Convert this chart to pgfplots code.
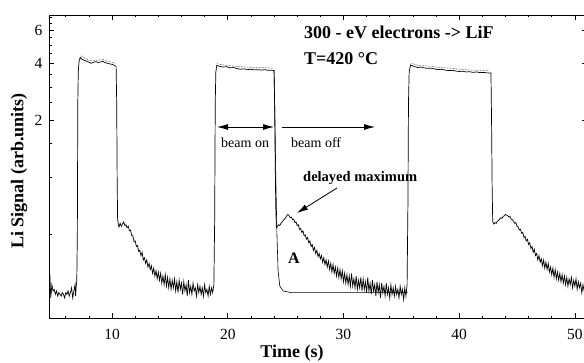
\documentclass[border=0pt]{standalone}
\usepackage{pgfplots}
\pgfplotsset{compat=1.18}
\usepackage{fontspec}
\setmainfont{Liberation Serif}
\usetikzlibrary{arrows.meta}

\begin{document}
\begin{tikzpicture}[x=1pt,y=1pt]
\useasboundingbox (0,0) rectangle (584,362);
\begin{axis}[
  at={(49pt,44pt)}, anchor=south west,
  scale only axis, width=538pt, height=303pt,
  xmin=4.55, xmax=51.05,
  ymode=log, ymin=0.18, ymax=7.2,
  xtick={10,20,30,40,50},
  minor xtick={6,8,12,14,16,18,22,24,26,28,32,34,36,38,42,44,46,48},
  ytick={2,4,6}, yticklabels={2,4,6},
  minor ytick={0.5,1,1.5,2.5,3,3.5,4.5,5,5.5,6.5,7},
  tick align=inside,
  major tick length=5pt, minor tick length=2.5pt,
  every tick/.style={black, line width=0.7pt},
  axis line style={line width=0.8pt, black},
  /pgf/number format/assume math mode=true,
  tick label style={font=\fontsize{15.5}{18}\selectfont},
  xticklabel style={yshift=-8pt},
  yticklabel style={xshift=-3pt},
]
% main signal
\addplot[black, line width=0.7pt] coordinates {
(4.58,0.20) (4.62,0.31) (4.7,0.23) (4.8,0.27) (4.9,0.25) (5.0,0.255) (5.1,0.24) (5.2,0.25) (5.3,0.235) (5.4,0.245)
(5.5,0.24) (5.6,0.235) (5.7,0.245) (5.8,0.24) (5.9,0.23) (6.0,0.245) (6.1,0.24) (6.2,0.25) (6.3,0.235) (6.4,0.245)
(6.5,0.26) (6.6,0.23) (6.7,0.25) (6.8,0.27) (6.85,0.235) (6.9,0.265) (6.95,0.28)
(7.0,0.5) (7.04,2.5) (7.08,3.6) (7.15,4.1) (7.25,4.3) (7.4,4.2) (7.6,4.15) (7.8,4.1) (8.0,4.05) (8.2,4.0)
(8.4,4.05) (8.6,4.08) (8.8,4.04) (9.0,4.06) (9.2,4.1) (9.4,4.03) (9.6,4.0) (9.8,3.97) (10.0,3.95) (10.2,3.9) (10.35,3.85)
(10.4,2.5) (10.44,1.0) (10.48,0.6) (10.55,0.56) (10.6,0.545) (10.7,0.57) (10.8,0.55) (10.9,0.565) (11.0,0.58)
(11.1,0.555) (11.2,0.56) (11.3,0.54) (11.4,0.55) (11.5,0.52) (11.6,0.525) (11.7,0.49) (11.8,0.49) (11.9,0.455) (12.0,0.46)
(12.1,0.43) (12.2,0.435) (12.3,0.405) (12.4,0.41) (12.5,0.385) (12.6,0.40) (12.7,0.365) (12.8,0.375) (12.9,0.35) (13.0,0.365)
(13.1,0.335) (13.2,0.35) (13.3,0.325) (13.4,0.34) (13.5,0.31) (13.6,0.33) (13.7,0.30) (13.8,0.32) (13.9,0.29) (14.0,0.315)
(14.1,0.285) (14.2,0.31) (14.3,0.275) (14.4,0.30) (14.5,0.27) (14.6,0.305) (14.7,0.265) (14.8,0.295) (14.9,0.26) (15.0,0.29)
(15.1,0.255) (15.2,0.285) (15.3,0.26) (15.4,0.29) (15.5,0.25) (15.6,0.28) (15.7,0.245) (15.8,0.285) (15.9,0.255) (16.0,0.275)
(16.1,0.24) (16.2,0.28) (16.3,0.25) (16.4,0.27) (16.5,0.235) (16.6,0.285) (16.7,0.245) (16.8,0.265) (16.9,0.24) (17.0,0.275)
(17.1,0.25) (17.2,0.26) (17.3,0.235) (17.4,0.27) (17.5,0.245) (17.6,0.265) (17.7,0.24) (17.8,0.26) (17.9,0.235) (18.0,0.27)
(18.1,0.245) (18.2,0.255) (18.3,0.235) (18.4,0.265) (18.5,0.24) (18.6,0.26) (18.7,0.245) (18.8,0.27)
(18.87,0.6) (18.92,2.5) (18.97,3.6) (19.05,3.9) (19.3,3.85) (19.6,3.82) (19.9,3.84) (20.2,3.78) (20.5,3.8) (20.8,3.75)
(21.1,3.72) (21.4,3.74) (21.7,3.7) (22.0,3.72) (22.3,3.69) (22.6,3.7) (22.9,3.68) (23.2,3.7) (23.5,3.67) (23.8,3.68) (24.0,3.66)
(24.05,2.5) (24.1,1.2) (24.15,0.7) (24.2,0.54) (24.3,0.55) (24.4,0.56) (24.5,0.555) (24.6,0.57) (24.7,0.58) (24.8,0.59)
(24.9,0.60) (25.0,0.61) (25.1,0.625) (25.2,0.635)
(25.3,0.625) (25.4,0.61) (25.5,0.615) (25.6,0.595) (25.7,0.60) (25.8,0.575) (25.9,0.58) (26.0,0.555) (26.1,0.56) (26.2,0.53)
(26.3,0.535) (26.4,0.51) (26.5,0.52) (26.6,0.49) (26.7,0.495) (26.8,0.47) (26.9,0.48) (27.0,0.45) (27.1,0.46) (27.2,0.43)
(27.3,0.44) (27.4,0.41) (27.5,0.425) (27.6,0.395) (27.7,0.41) (27.8,0.38) (27.9,0.395) (28.0,0.37) (28.1,0.385) (28.2,0.355)
(28.3,0.375) (28.4,0.345) (28.5,0.365) (28.6,0.335) (28.7,0.36) (28.8,0.325) (28.9,0.35) (29.0,0.315) (29.1,0.345) (29.2,0.31)
(29.3,0.335) (29.4,0.30) (29.5,0.33) (29.6,0.295) (29.7,0.325) (29.8,0.29) (29.9,0.32) (30.0,0.28) (30.1,0.31) (30.2,0.275)
(30.3,0.305) (30.4,0.27) (30.5,0.30) (30.6,0.265) (30.7,0.31) (30.8,0.265) (30.9,0.29) (31.0,0.26) (31.1,0.30) (31.2,0.255)
(31.3,0.285) (31.4,0.26) (31.5,0.295) (31.6,0.25) (31.7,0.29) (31.8,0.255) (31.9,0.28) (32.0,0.245) (32.1,0.295) (32.2,0.25)
(32.3,0.275) (32.4,0.24) (32.5,0.285) (32.6,0.25) (32.7,0.27) (32.8,0.235) (32.9,0.28) (33.0,0.245) (33.1,0.27) (33.2,0.23)
(33.3,0.275) (33.4,0.245) (33.5,0.265) (33.6,0.235) (33.7,0.275) (33.8,0.24) (33.9,0.26) (34.0,0.23) (34.1,0.27) (34.2,0.24)
(34.3,0.26) (34.4,0.235) (34.5,0.265) (34.6,0.24) (34.7,0.255) (34.8,0.23) (34.9,0.265) (35.0,0.24) (35.1,0.255) (35.2,0.225)
(35.3,0.26) (35.4,0.235) (35.5,0.27)
(35.57,0.7) (35.62,2.5) (35.68,3.6) (35.8,3.92) (36.1,3.85) (36.4,3.8) (36.7,3.82) (37.0,3.78) (37.3,3.76) (37.6,3.77)
(37.9,3.73) (38.2,3.7) (38.5,3.72) (38.8,3.68) (39.1,3.66) (39.4,3.67) (39.7,3.64) (40.0,3.62) (40.3,3.63) (40.6,3.6)
(40.9,3.61) (41.2,3.58) (41.5,3.6) (41.8,3.57) (42.1,3.58) (42.4,3.56) (42.75,3.55)
(42.8,2.0) (42.85,0.9) (42.9,0.58) (43.0,0.565) (43.1,0.575) (43.2,0.57) (43.3,0.585) (43.4,0.59) (43.5,0.60) (43.6,0.61)
(43.7,0.605) (43.8,0.62) (43.9,0.625) (44.0,0.635) (44.1,0.63) (44.2,0.625)
(44.3,0.615) (44.4,0.62) (44.5,0.60) (44.6,0.595) (44.7,0.585) (44.8,0.57) (44.9,0.575) (45.0,0.55) (45.1,0.545) (45.2,0.525)
(45.3,0.53) (45.4,0.505) (45.5,0.51) (45.6,0.48) (45.7,0.485) (45.8,0.46) (45.9,0.47) (46.0,0.44) (46.1,0.45) (46.2,0.42)
(46.3,0.43) (46.4,0.40) (46.5,0.415) (46.6,0.385) (46.7,0.395) (46.8,0.365) (46.9,0.385) (47.0,0.355) (47.1,0.37) (47.2,0.34)
(47.3,0.365) (47.4,0.33) (47.5,0.355) (47.6,0.325) (47.7,0.35) (47.8,0.315) (47.9,0.335) (48.0,0.305) (48.1,0.33) (48.2,0.295)
(48.3,0.325) (48.4,0.29) (48.5,0.315) (48.6,0.285) (48.7,0.31) (48.8,0.28) (48.9,0.305) (49.0,0.275) (49.1,0.30) (49.2,0.27)
(49.3,0.295) (49.4,0.265) (49.5,0.29) (49.6,0.27) (49.7,0.295) (49.8,0.26) (49.9,0.285) (50.0,0.265) (50.1,0.29) (50.2,0.255)
(50.3,0.28) (50.4,0.26) (50.5,0.275) (50.6,0.245) (50.7,0.27) (50.8,0.25) (50.9,0.265) (51.0,0.255)
};
% thin reference curve (no delayed maximum)
\addplot[black, line width=0.6pt] coordinates {
(23.9,3.68) (24.0,3.66) (24.08,2.0) (24.15,1.0) (24.25,0.5) (24.35,0.32) (24.5,0.265) (24.8,0.25) (25.5,0.245) (35.55,0.245)
};
% dotted overlays on plateaus
\addplot[black, densely dotted, line width=0.5pt] coordinates {
(7.3,4.38) (7.6,4.26) (8.0,4.15) (8.4,4.15) (8.8,4.15) (9.2,4.2) (9.6,4.1) (10.0,4.05) (10.3,4.0)
};
\addplot[black, densely dotted, line width=0.5pt] coordinates {
(19.1,3.98) (19.6,3.92) (20.2,3.88) (20.8,3.85) (21.4,3.83) (22.0,3.8) (22.6,3.79) (23.2,3.79) (23.9,3.77)
};
\addplot[black, densely dotted, line width=0.5pt] coordinates {
(35.9,4.0) (36.4,3.9) (37.0,3.88) (37.6,3.86) (38.2,3.8) (38.8,3.78) (39.4,3.76) (40.0,3.72) (40.6,3.7) (41.2,3.68) (41.8,3.67) (42.6,3.65)
};
\end{axis}
% labels
\node[font=\bfseries\fontsize{18}{21}\selectfont, rotate=90] at (19,191) {Li Signal (arb.units)};
\node[font=\bfseries\fontsize{18}{21}\selectfont, anchor=base] at (292,5) {Time (s)};
% annotations
\node[font=\bfseries\fontsize{18}{21}\selectfont, anchor=base west, inner sep=0] at (304,323) {300 - eV electrons -> LiF};
\node[font=\bfseries\fontsize{18}{21}\selectfont, anchor=base west, inner sep=0] at (304,297) {T=420 °C};
\node[font=\fontsize{14}{16}\selectfont, anchor=base west, inner sep=0] at (221,214) {beam on};
\node[font=\fontsize{14}{16}\selectfont, anchor=base west, inner sep=0] at (291,214) {beam off};
\node[font=\bfseries\fontsize{14.5}{16}\selectfont, anchor=base west, inner sep=0] at (303,180) {delayed maximum};
\node[font=\bfseries\fontsize{16}{18}\selectfont, anchor=base west, inner sep=0] at (288,99) {A};
\draw[line width=0.8pt, {Latex[length=11pt,width=6pt]}-{Latex[length=11pt,width=6pt]}] (217,235) -- (274,235);
\draw[line width=0.8pt, -{Latex[length=11pt,width=6pt]}] (282,235) -- (375,235);
\draw[line width=0.8pt, -{Latex[length=11pt,width=6pt]}] (337,174) -- (297,149);
\end{tikzpicture}
\end{document}
